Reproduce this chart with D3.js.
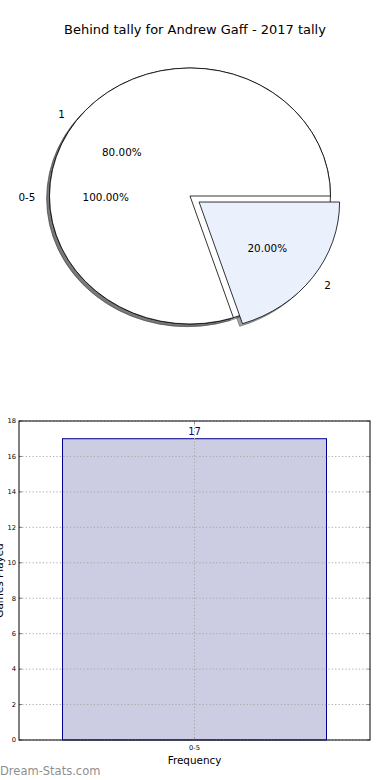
<!DOCTYPE html>
<html><head><meta charset="utf-8">
<script src="https://cdn.jsdelivr.net/npm/d3@7"></script>
<style>body{margin:0;background:#fff}svg{display:block;font-family:"DejaVu Sans",sans-serif}</style>
</head><body><svg id="c" width="390" height="780"></svg>
<script>
const title = "Behind tally for Andrew Gaff - 2017 tally";
const outerLabels = ["0-5"];
const outerPercents = [100];
const innerLabels = ["1", "2"];
const innerPercents = [80, 20];
const innerColors = ["#ffffff", "#eaf0fc"];
const innerExplode = [0, 0.08];
const barCategories = ["0-5"];
const barValues = [17];
const yTicks = [0, 2, 4, 6, 8, 10, 12, 14, 16, 18];
const xAxisLabel = "Frequency";
const yAxisLabel = "Games Played";
const watermark = "Dream-Stats.com";

const svg = d3.select("#c");

// Title
svg.append("text").attr("x", 195).attr("y", 34).attr("text-anchor", "middle")
  .attr("font-size", 13).text(title);

// ---------- PIE ----------
const cx = 190, cy = 196, rx = 140.5, ry = 128;
const shOx = -2.8, shOy = 2.6;
const pieGen = d3.pie().sort(null).value(d => d.v)
  .startAngle(Math.PI / 2).endAngle(Math.PI / 2 - 2 * Math.PI);
const arc = d3.arc().innerRadius(0).outerRadius(1);

function wedges(labels, vals, colors, explode) {
  const arcs = pieGen(labels.map((l, i) => ({ l, v: vals[i], c: colors[i], e: explode[i] })));
  arcs.forEach(a => {
    const mid = (a.startAngle + a.endAngle) / 2;
    a.dx = Math.sin(mid); a.dy = -Math.cos(mid);
    a.ox = a.dx * a.data.e * rx; a.oy = a.dy * a.data.e * ry;
  });
  return arcs;
}
const outerArcs = wedges(outerLabels, outerPercents, ["#ffffff"], [0]);
const innerArcs = wedges(innerLabels, innerPercents, innerColors, innerExplode);
const allArcs = outerArcs.concat(innerArcs);

const pg = svg.append("g").attr("transform", `translate(${cx},${cy})`);
// shadows first (below all wedges)
const shadowColor = c => { const k = d3.rgb(c); return `rgb(${k.r*0.3},${k.g*0.3},${k.b*0.3})`; };
allArcs.forEach(a => {
  pg.append("path")
    .attr("transform", `translate(${a.ox + shOx},${a.oy + shOy}) scale(${rx},${ry})`)
    .attr("d", arc(a))
    .attr("fill", shadowColor(a.data.c)).attr("fill-opacity", 0.5)
    .attr("stroke", shadowColor(a.data.c)).attr("stroke-opacity", 0.5)
    .attr("stroke-width", 1).attr("vector-effect", "non-scaling-stroke");
});
allArcs.forEach(a => {
  pg.append("path")
    .attr("transform", `translate(${a.ox},${a.oy}) scale(${rx},${ry})`)
    .attr("d", arc(a))
    .attr("fill", a.data.c).attr("stroke", "#000")
    .attr("stroke-width", 0.8).attr("vector-effect", "non-scaling-stroke");
});
allArcs.forEach(a => {
  const lx = a.ox + a.dx * 1.1 * rx, ly = a.oy + a.dy * 1.1 * ry;
  pg.append("text").attr("x", lx).attr("y", ly).attr("dy", "0.45em")
    .attr("text-anchor", lx < a.ox ? "end" : "start").attr("font-size", 10.4)
    .text(a.data.l);
  const px = a.ox + a.dx * 0.6 * rx, py = a.oy + a.dy * 0.6 * ry;
  pg.append("text").attr("x", px).attr("y", py).attr("dy", "0.45em")
    .attr("text-anchor", "middle").attr("font-size", 10.4)
    .text(a.data.v.toFixed(2) + "%");
});

// ---------- BAR ----------
const L = 19, R = 370, T = 421, B = 740;
const x = d3.scaleBand().domain(barCategories).range([L, R]).paddingInner(0.2).paddingOuter(0.1318);
const y = d3.scaleLinear().domain([0, 18]).range([B, T]);
const bg = svg.append("g");

bg.selectAll("rect.bar").data(barCategories).enter().append("rect")
  .attr("x", d => x(d)).attr("width", x.bandwidth())
  .attr("y", (d, i) => y(barValues[i])).attr("height", (d, i) => B - y(barValues[i]))
  .attr("fill", "#ccccE3").attr("stroke", "#00008b").attr("stroke-width", 1);

// grid
bg.selectAll("line.hg").data(yTicks).enter().append("line")
  .attr("x1", L).attr("x2", R).attr("y1", d => y(d)).attr("y2", d => y(d))
  .attr("stroke", "#a8a8a8").attr("stroke-dasharray", "1.2,2.2");
bg.selectAll("line.vg").data(barCategories).enter().append("line")
  .attr("x1", d => x(d) + x.bandwidth() / 2).attr("x2", d => x(d) + x.bandwidth() / 2)
  .attr("y1", T).attr("y2", B)
  .attr("stroke", "#a8a8a8").attr("stroke-dasharray", "1.2,2.2");

// ticks (inside)
bg.selectAll("line.ylt").data(yTicks).enter().append("line")
  .attr("x1", L).attr("x2", L + 3).attr("y1", d => y(d)).attr("y2", d => y(d)).attr("stroke", "#777");
bg.selectAll("line.yrt").data(yTicks).enter().append("line")
  .attr("x1", R - 3).attr("x2", R).attr("y1", d => y(d)).attr("y2", d => y(d)).attr("stroke", "#999");
bg.selectAll("line.xbt").data(barCategories).enter().append("line")
  .attr("x1", d => x(d) + x.bandwidth() / 2).attr("x2", d => x(d) + x.bandwidth() / 2)
  .attr("y1", B - 3).attr("y2", B).attr("stroke", "#999");
bg.selectAll("line.xtt").data(barCategories).enter().append("line")
  .attr("x1", d => x(d) + x.bandwidth() / 2).attr("x2", d => x(d) + x.bandwidth() / 2)
  .attr("y1", T).attr("y2", T + 3).attr("stroke", "#999");

// spines
bg.append("rect").attr("x", L).attr("y", T).attr("width", R - L).attr("height", B - T)
  .attr("fill", "none").attr("stroke", "#000").attr("stroke-width", 1);

// tick labels
bg.selectAll("text.yl").data(yTicks).enter().append("text")
  .attr("x", L - 3).attr("y", d => y(d)).attr("dy", "0.35em").attr("text-anchor", "end")
  .attr("font-size", 6.7).text(d => d);
bg.selectAll("text.xl").data(barCategories).enter().append("text")
  .attr("x", d => x(d) + x.bandwidth() / 2).attr("y", B + 10).attr("text-anchor", "middle")
  .attr("font-size", 6.7).text(d => d);

// value label
bg.selectAll("text.vl").data(barCategories).enter().append("text")
  .attr("x", d => x(d) + x.bandwidth() / 2).attr("y", (d, i) => y(barValues[i]) - 4)
  .attr("text-anchor", "middle").attr("font-size", 10).attr("fill", "#00008b")
  .text((d, i) => barValues[i]);

// axis labels
svg.append("text").attr("x", 194.5).attr("y", 764).attr("text-anchor", "middle")
  .attr("font-size", 10.4).text(xAxisLabel);
svg.append("text").attr("transform", `translate(3,${(T + B) / 2}) rotate(-90)`)
  .attr("text-anchor", "middle").attr("font-size", 10.4).text(yAxisLabel);

// watermark
svg.append("text").attr("x", 0).attr("y", 775).attr("font-size", 11.5)
  .attr("fill", "#8f8f8f").text(watermark);
</script></body></html>
